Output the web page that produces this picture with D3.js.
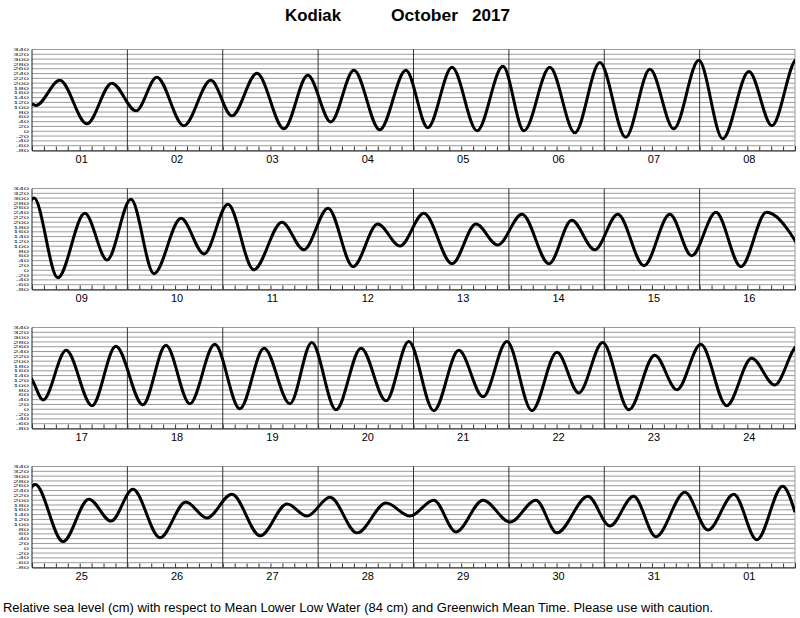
<!DOCTYPE html>
<html>
<head>
<meta charset="utf-8">
<script src="https://cdn.jsdelivr.net/npm/d3@7"></script>
<style>
  html, body { margin: 0; padding: 0; background: #fff; }
  svg { display: block; font-family: "Liberation Sans", Arial, Helvetica, sans-serif; }
</style>
</head>
<body>
<svg id="chart" width="800" height="618"></svg>
<script>
// ---- Data (hours since 2017-10-01 00:00 GMT, sea level in cm) ----
const extremeHours = [
  0, 1.0, 7.0, 13.8, 20.1, 26.2, 31.4, 38.2, 45.0, 50.3, 56.6, 63.4, 69.4, 75.2, 81.0, 87.5,
  94.1, 99.6, 105.7, 112.0, 118.5, 123.8, 130.3, 136.6, 142.9, 149.4, 155.5, 161.5, 167.8, 173.8,
  180.4, 186.2,
  192.5, 198.5, 205.3, 210.9, 216.9, 222.7, 229.5, 235.3, 241.3, 247.8, 254.9, 260.4, 266.5, 272.8,
  279.0, 284.6, 290.6, 297.7, 303.7, 309.2, 315.3, 322.1, 327.8, 333.6, 339.4, 346.0, 352.5, 358.0,
  364.1, 370.4, 376.8, 384.0,
  386.8, 392.6, 399.1, 405.1, 411.9, 417.7, 423.7, 430.0, 436.3, 442.4, 448.9, 454.4, 460.5, 466.8,
  473.1, 478.8, 485.1, 491.4, 497.5, 503.5, 509.8, 516.1, 521.6, 527.6, 534.2, 540.7, 546.3, 552.3,
  558.8, 565.1, 570.9,
  576.8, 583.8, 590.3, 595.9, 601.4, 608.2, 614.7, 620.0, 626.3, 633.4, 640.2, 645.2, 651.0, 657.8,
  665.1, 671.1, 677.1, 682.7, 689.5, 696.3, 702.8, 708.1, 715.9, 721.4, 727.4, 733.0, 740.3, 746.1,
  752.6, 758.4, 764.9, 768
];
const extremeLevels = [
  114, 107, 212, 31, 200, 85, 225, 23, 212, 64, 241, 10, 233, 39, 254, 6,
  254, 15, 266, 2, 270, 2, 266, -6, 286, -25, 258, 10, 295, -31,
  249, 23,
  300, -31, 237, 43, 295, -14, 216, 68, 274, 2, 200, 85, 258, 15,
  192, 101, 237, 27, 192, 105, 233, 27, 208, 85, 233, 19, 233, 60,
  241, 15, 241, 124,
  39, 245, 15, 262, 19, 266, 23, 270, 2, 254, 23, 278, -2, 254,
  35, 282, -6, 245, 52, 282, -6, 237, 68, 278, -2, 225, 81, 270,
  15, 212, 101,
  265, 28, 204, 113, 245, 44, 192, 126, 225, 52, 184, 134, 212, 64,
  188, 134, 200, 68, 200, 109, 200, 64, 216, 93, 216, 48, 233, 76,
  225, 35, 258, 150
];
const dayLabels = [
  ["01","02","03","04","05","06","07","08"],
  ["09","10","11","12","13","14","15","16"],
  ["17","18","19","20","21","22","23","24"],
  ["25","26","27","28","29","30","31","01"]
];
const yTickValues = [340,320,300,280,260,240,220,200,180,160,140,120,100,80,60,40,20,0,-20,-40,-60,-80];
const titleParts = ["Kodiak", "October", "2017"];
const footerText = "Relative sea level (cm) with respect to Mean Lower Low Water (84 cm) and Greenwich Mean Time. Please use with caution.";

// ---- Layout ----
const svg = d3.select("#chart");
const left = 32, right = 795, panelH = 101;
const panelTops = [49.5, 188.5, 327.5, 466.5];
const hoursPerPanel = 192;

const points = extremeHours.map((h, i) => ({ h, v: extremeLevels[i] }));

// Title
const titleX = [285, 391, 472], titleW = [56, 67, 38];
titleParts.forEach((t, i) => {
  svg.append("text")
    .attr("x", titleX[i]).attr("y", 21)
    .attr("font-size", 17).attr("font-weight", "bold")
    .attr("textLength", titleW[i]).attr("lengthAdjust", "spacingAndGlyphs")
    .text(t);
});

panelTops.forEach((top, p) => {
  const g = svg.append("g");
  const x = d3.scaleLinear().domain([p * hoursPerPanel, (p + 1) * hoursPerPanel]).range([left, right]);
  const y = d3.scaleLinear().domain([-80, 340]).range([top + panelH, top]);

  // horizontal grid
  g.append("g").selectAll("line").data(yTickValues).join("line")
    .attr("x1", left).attr("x2", right)
    .attr("y1", d => y(d)).attr("y2", d => y(d))
    .attr("stroke", "#9a9a9a").attr("stroke-width", 1);

  // right border
  g.append("line").attr("x1", right).attr("x2", right).attr("y1", top).attr("y2", top + panelH)
    .attr("stroke", "#9a9a9a");

  // day separators
  const dayTicks = d3.range(1, 8).map(d => p * hoursPerPanel + d * 24);
  g.append("g").selectAll("line").data(dayTicks).join("line")
    .attr("x1", d => x(d)).attr("x2", d => x(d))
    .attr("y1", top).attr("y2", top + panelH)
    .attr("stroke", "#333").attr("stroke-width", 1);

  // left border
  g.append("line").attr("x1", left).attr("x2", left).attr("y1", top).attr("y2", top + panelH)
    .attr("stroke", "#222");

  // bottom axis with 3-hour ticks
  const tickHours = d3.range(0, 65).map(k => p * hoursPerPanel + k * 3);
  const xAxis = d3.axisBottom(x).tickValues(tickHours).tickSize(-4).tickFormat("");
  g.append("g").attr("transform", `translate(0,${top + panelH})`).call(xAxis)
    .call(a => a.selectAll("line").attr("stroke", "#333"))
    .call(a => a.select(".domain").attr("stroke", "#222"));

  // day labels
  const xd = d3.scaleBand().domain(dayLabels[p]).range([left, right]);
  g.selectAll("text.day").data(dayLabels[p]).join("text")
    .attr("class", "day")
    .attr("x", d => xd(d) + xd.bandwidth() / 2 + 2)
    .attr("y", top + panelH + 12)
    .attr("text-anchor", "middle").attr("font-size", 11)
    .text(d => d);

  // y labels (compressed as in reference)
  const yl = g.append("g");
  yl.selectAll("text").data(yTickValues).join("text")
    .attr("transform", d => `translate(29,${y(d) + 1.6}) scale(1.25,0.55)`)
    .attr("text-anchor", "end").attr("font-size", 7.5).attr("fill", "#222")
    .text(d => d);

  // tide curve
  const clipId = "clip" + p;
  svg.append("clipPath").attr("id", clipId).append("rect")
    .attr("x", left).attr("y", top - 5).attr("width", right - left).attr("height", panelH + 10);
  const line = d3.line().x(d => x(d.h)).y(d => y(d.v)).curve(d3.curveMonotoneX);
  g.append("path").datum(points)
    .attr("clip-path", `url(#${clipId})`)
    .attr("d", line)
    .attr("fill", "none").attr("stroke", "#000").attr("stroke-width", 3)
    .attr("stroke-linejoin", "round");
});

// Footer
svg.append("text").attr("x", 3).attr("y", 612)
  .attr("font-size", 12)
  .attr("textLength", 710).attr("lengthAdjust", "spacingAndGlyphs")
  .text(footerText);
</script>
</body>
</html>
